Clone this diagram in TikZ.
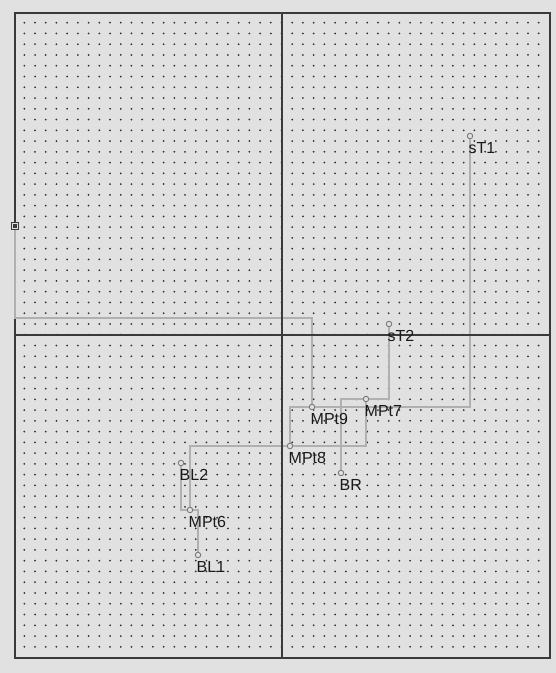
\documentclass[tikz,border=0pt]{standalone}
\usepackage{fontspec}
\setmainfont{Liberation Sans}
\usepackage{xcolor}
\usepackage{tikz}
\usetikzlibrary{positioning}

\definecolor{bgcol}{HTML}{E1E1E1}
\definecolor{dotcol}{HTML}{303030}
\definecolor{framecol}{HTML}{3A3A3A}
\definecolor{wirecol}{HTML}{B0B0B0}
\definecolor{pincol}{HTML}{7A7A7A}
\definecolor{txtcol}{HTML}{1A1A1A}

\begin{document}
\begin{tikzpicture}[x=1pt, y=-1pt,
    wire/.style={draw=wirecol, line width=1.7pt},
    pin/.style={circle, draw=pincol, line width=0.9pt, fill=bgcol, inner sep=0pt, minimum size=5.5pt},
    port/.style={rectangle, draw=framecol, line width=1.4pt, fill=bgcol, inner sep=0pt, minimum size=7.5pt},
    lbl/.style={anchor=north west, inner sep=0pt, text=txtcol, font=\fontsize{16}{18}\selectfont}]
        % Sheet and dot grid
        \fill[bgcol] (0,0) rectangle (556,673);
        \foreach \i in {0,...,48} {
          \foreach \j in {0,...,58} {
            \fill[dotcol] (24.3+\i*10.717, 22.7+\j*10.76) circle (1.0);
          }
        }
        \draw[framecol, line width=2pt] (15,13) rectangle (550,658);

        % Points
        \node[port] (port) at (15,226) {};
        \fill[framecol] (port.center) +(-1.6,-1.6) rectangle +(1.6,1.6);
        \foreach \p/\x/\y in {sT1/470/136, sT2/389/324, MPt9/312/407, MPt7/366/399,
                              MPt8/290/446, BR/341/473, BL2/181/463, MPt6/190/510, BL1/198/555} {
          \node[pin] (\p) at (\x,\y) {};
        }
        \coordinate (bend) at (15,318);

        % Wires
        \draw[wire] (port) -- (bend) -| (MPt9);
        \draw[wire] (MPt9) -| (sT1);
        \draw[wire] (MPt9) -| (MPt8);
        \draw[wire] (MPt7) -| (sT2);
        \draw[wire] (MPt7) -| (BR);
        \draw[wire] (MPt7) |- (MPt8);
        \draw[wire] (MPt8) -| (MPt6);
        \draw[wire] (MPt6) -| (BL2);
        \draw[wire] (MPt6) -| (BL1);

        % Quarter lines
        \draw[framecol, line width=1.7pt] (282,13) -- (282,658);
        \draw[framecol, line width=1.7pt] (15,335) -- (550,335);

        % Labels
        \foreach \p in {sT1, sT2, MPt9, MPt7, MPt8, BR, BL2, MPt6, BL1} {
          \node[lbl, below right=6.5pt and -1.5pt of \p.center] (\p-lbl) {\p};
        }
      \end{tikzpicture}
\end{document}
